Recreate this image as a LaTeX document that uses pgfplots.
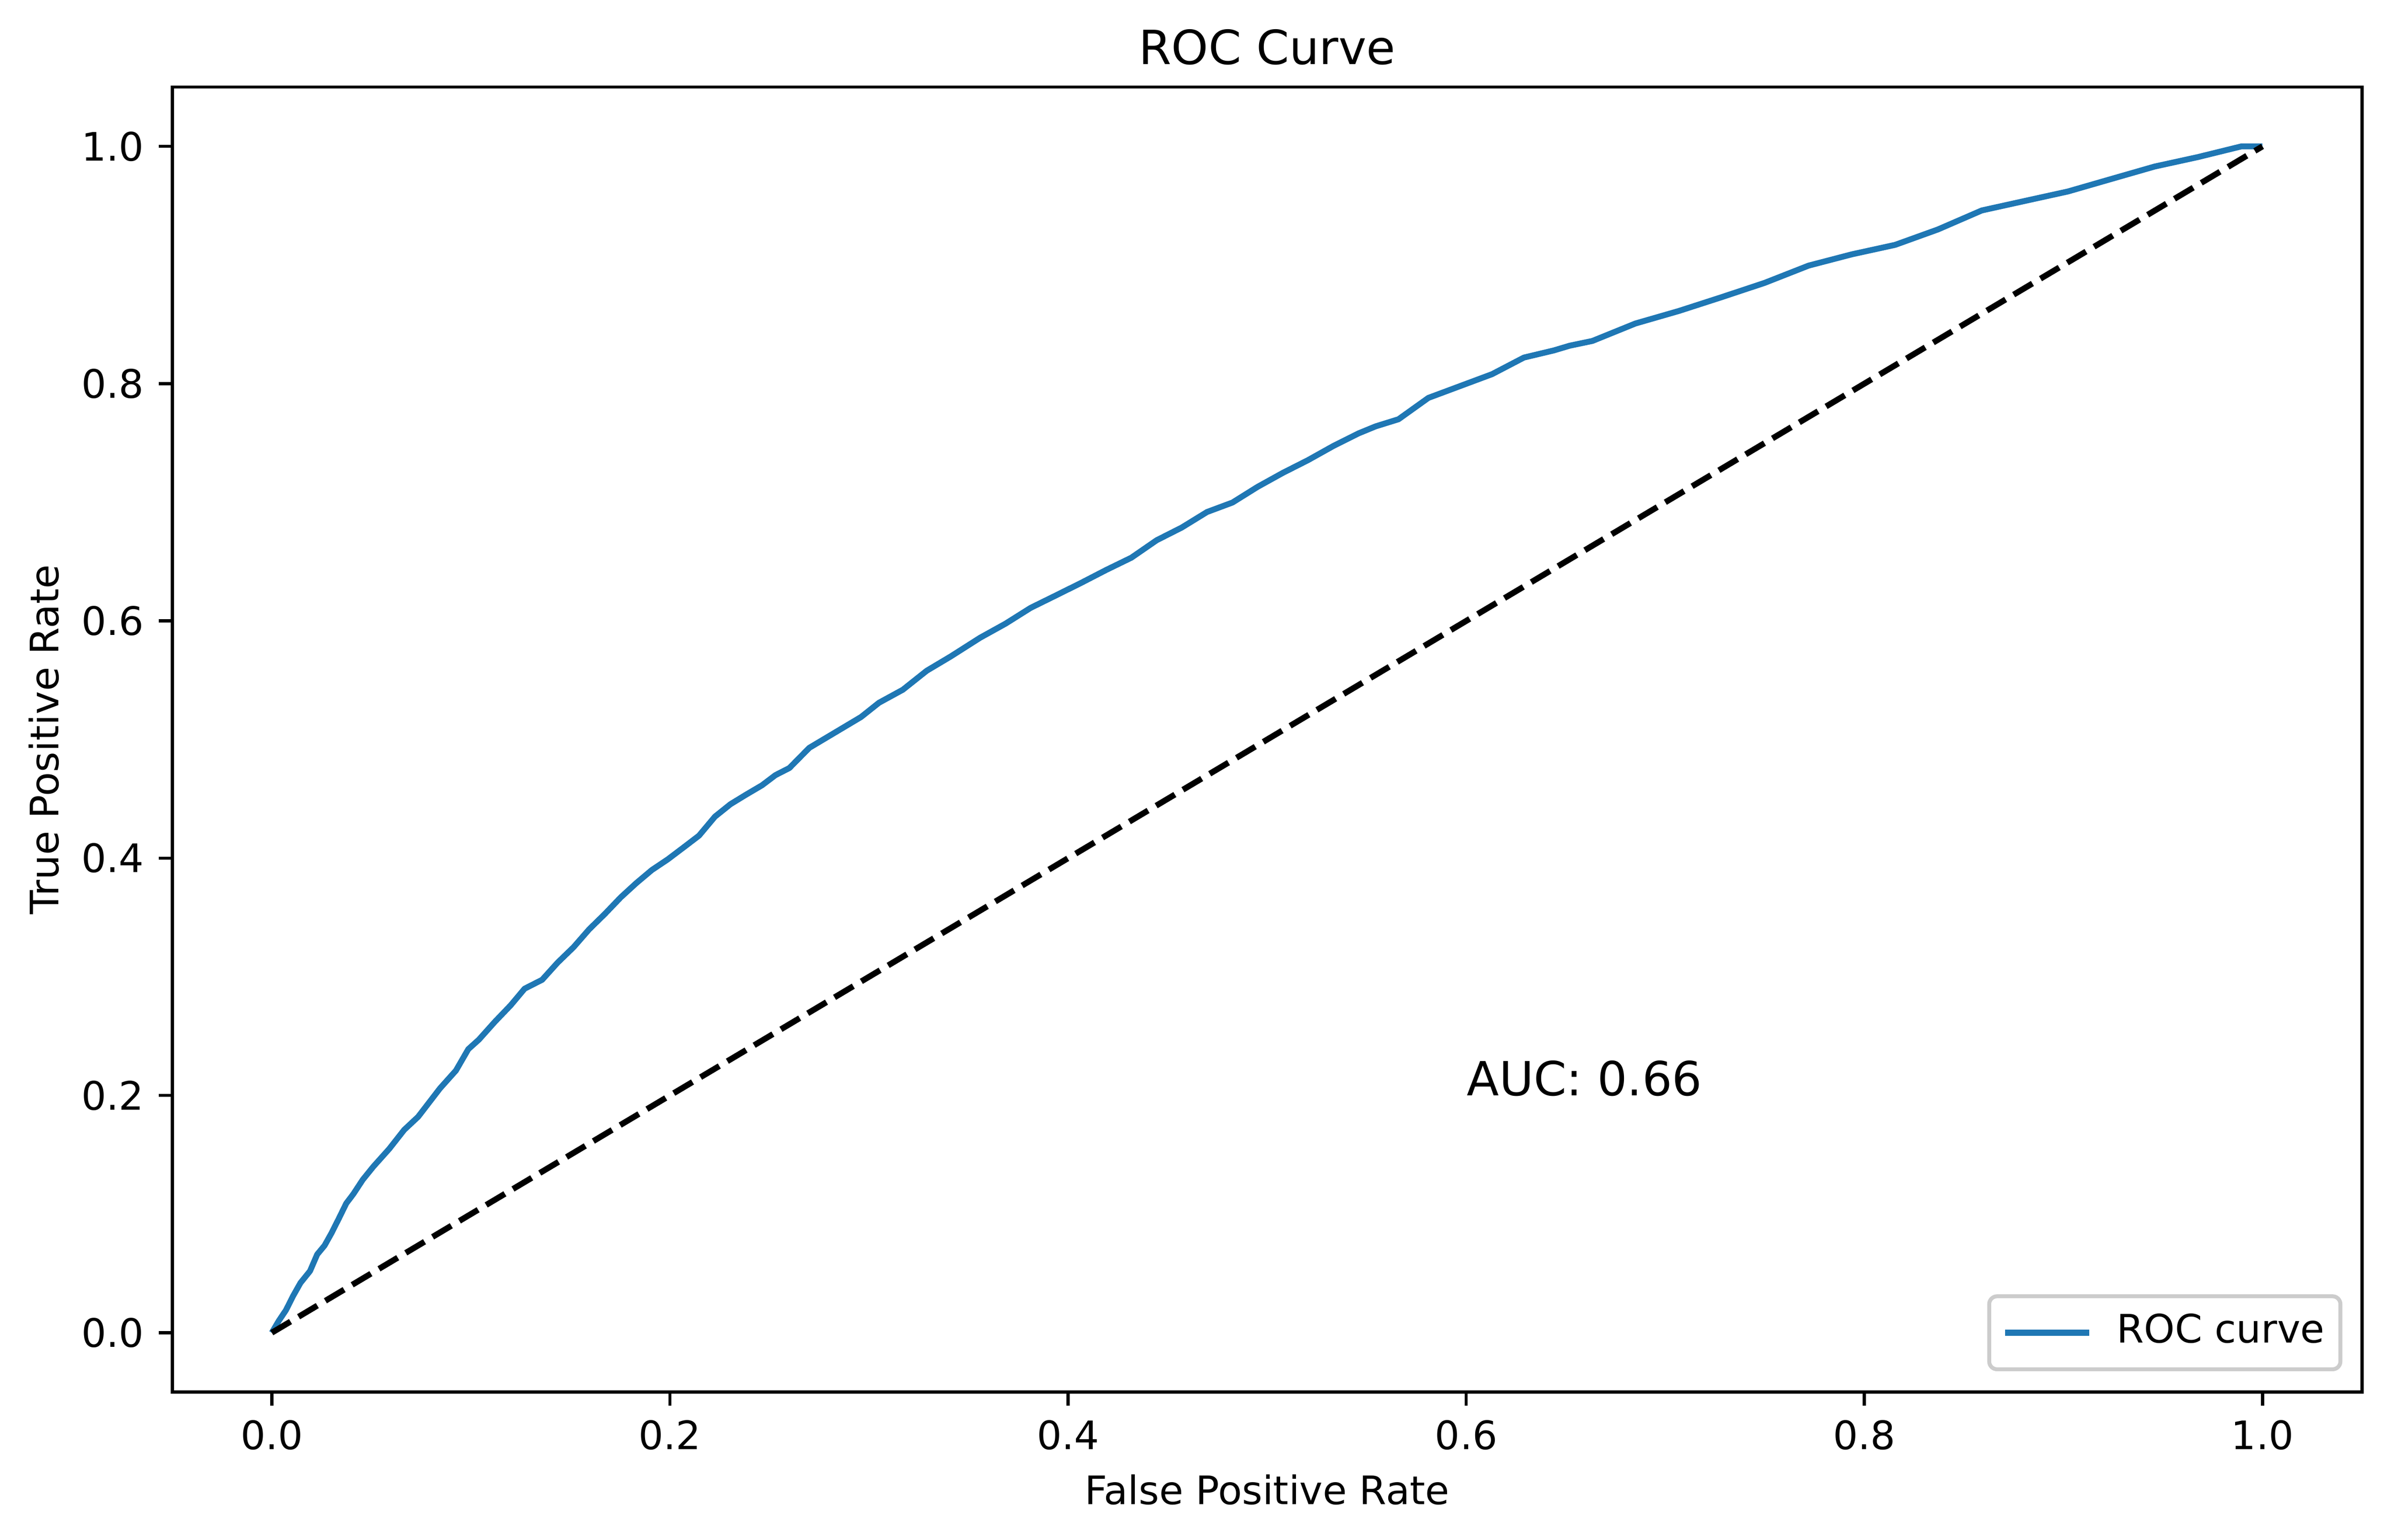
\documentclass[border=0pt]{standalone}
\usepackage{fontspec}
\setmainfont{DejaVu Sans}
\usepackage{pgfplots}
\pgfplotsset{compat=1.18}
\definecolor{mplblue}{HTML}{1F77B4}
\definecolor{legframe}{HTML}{CCCCCC}

\begin{document}
\begin{tikzpicture}
\begin{axis}[
  scale only axis,
  width=558pt, height=332.6pt,
  xmin=-0.05, xmax=1.05, ymin=-0.05, ymax=1.05,
  axis line style={line width=0.8pt, black},
  tick align=outside, tick pos=left,
  major tick length=3.5pt,
  every tick/.style={line width=0.8pt, black},
  xtick={0,0.2,0.4,0.6,0.8,1.0},
  xticklabels={0.0,0.2,0.4,0.6,0.8,1.0},
  ytick={0,0.2,0.4,0.6,0.8,1.0},
  yticklabels={0.0,0.2,0.4,0.6,0.8,1.0},
  tick label style={font=\fontsize{10}{12}\selectfont, inner sep=0pt},
  xticklabel shift=3.5pt,
  yticklabel shift=3.5pt,
  title={ROC Curve},
  every axis title/.style={at={(axis description cs:0.5,1)}, anchor=base,
    yshift=5.8pt, inner sep=0pt, font=\fontsize{12}{14}\selectfont},
  xlabel={False Positive Rate},
  ylabel={True Positive Rate},
  every axis x label/.style={at={(axis description cs:0.5,0)}, anchor=base,
    yshift=-28.6pt, inner sep=0pt, font=\fontsize{10}{12}\selectfont},
  every axis y label/.style={at={(axis description cs:0,0.5)}, rotate=90,
    anchor=base, yshift=29pt, inner sep=0pt, font=\fontsize{10}{12}\selectfont},
  legend style={at={(axis description cs:1,0)}, anchor=south east,
    xshift=-5pt, yshift=5.3pt, draw=legframe, line width=1pt,
    rounded corners=2pt, fill=white, fill opacity=0.8, text opacity=1,
    inner xsep=4pt, inner ysep=4.5pt,
    font=\fontsize{10}{12}\selectfont,
    nodes={inner sep=0pt, text height=7.3pt, text depth=2.3pt}},
  legend cell align=left,
  legend image code/.code={\draw[#1, line cap=rect] (0pt,0pt) -- (20pt,0pt);},
  /tikz/every odd column/.append style={column sep=7pt},
]
\coordinate (bl) at (rel axis cs:0,0);
\coordinate (tr) at (rel axis cs:1,1);

\addplot[mplblue, line width=1.5pt, line join=round] coordinates {
  (0,0) (0.0035,0.010) (0.0071,0.019) (0.0107,0.031) (0.0144,0.042)
  (0.0192,0.052) (0.0228,0.066) (0.0265,0.0735) (0.030,0.084) (0.0336,0.096)
  (0.0374,0.109) (0.041,0.117) (0.0457,0.129) (0.051,0.140) (0.059,0.155)
  (0.0665,0.171) (0.0735,0.182) (0.0845,0.206) (0.0925,0.221) (0.0987,0.239)
  (0.104,0.247) (0.112,0.262) (0.120,0.276) (0.127,0.290) (0.1358,0.2975)
  (0.1436,0.312) (0.1516,0.325) (0.1594,0.340) (0.1673,0.353) (0.1753,0.367)
  (0.1831,0.379) (0.1909,0.390) (0.1989,0.399) (0.2068,0.409) (0.2146,0.419)
  (0.2226,0.435) (0.2304,0.4455) (0.2382,0.4535) (0.2463,0.4615) (0.2530,0.470)
  (0.2600,0.476) (0.2700,0.493) (0.2820,0.505) (0.2960,0.519) (0.3050,0.531)
  (0.3170,0.542) (0.3290,0.558) (0.3410,0.570) (0.3558,0.5858) (0.3686,0.5977)
  (0.3812,0.611) (0.3939,0.6215) (0.4065,0.632) (0.4192,0.643) (0.4318,0.6533)
  (0.4445,0.668) (0.4571,0.6787) (0.4698,0.6918) (0.4826,0.6998) (0.4952,0.713)
  (0.5079,0.7248) (0.5205,0.7355) (0.5332,0.7474) (0.5458,0.758) (0.5545,0.764)
  (0.566,0.770) (0.581,0.788) (0.597,0.798) (0.613,0.808) (0.621,0.815)
  (0.629,0.822) (0.644,0.828) (0.652,0.832) (0.6634,0.836) (0.685,0.8507)
  (0.7069,0.8613) (0.7285,0.873) (0.750,0.885) (0.772,0.8995) (0.7937,0.909)
  (0.8155,0.917) (0.837,0.930) (0.859,0.946) (0.8806,0.954) (0.9023,0.962)
  (0.924,0.9725) (0.9458,0.983) (0.9676,0.991) (0.9894,1.0) (1.0,1.0)
};
\addlegendentry{ROC curve}

\addplot[black, line width=1.5pt, dash pattern=on 5.55pt off 2.4pt, forget plot]
  coordinates {(0,0) (1,1)};

\node[anchor=base west, inner sep=0pt, font=\fontsize{12}{14}\selectfont]
  at (axis cs:0.6,0.2) {AUC: 0.66};
\end{axis}
\pgfresetboundingbox
\path ([shift={(-43.9pt,-37.7pt)}]bl) rectangle ([shift={(7.4pt,22.2pt)}]tr);
\end{tikzpicture}
\end{document}
